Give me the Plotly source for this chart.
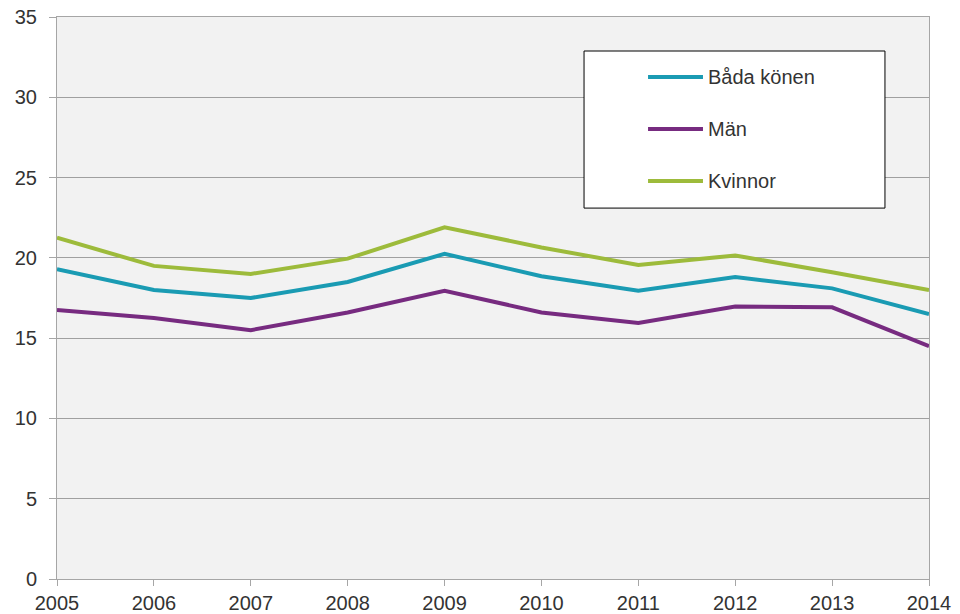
import plotly.graph_objects as go

years = [2005, 2006, 2007, 2008, 2009, 2010, 2011, 2012, 2013, 2014]
bada = [19.3, 18.0, 17.5, 18.5, 20.25, 18.85, 17.95, 18.8, 18.1, 16.5]
man = [16.75, 16.25, 15.5, 16.6, 17.95, 16.6, 15.95, 16.97, 16.92, 14.5]
kvinnor = [21.25, 19.5, 19.0, 19.95, 21.9, 20.65, 19.55, 20.15, 19.1, 18.0]

names = ["Båda könen", "Män", "Kvinnor"]
colors = ["#1A9BB3", "#772B80", "#9DBB3B"]
series = [bada, man, kvinnor]

fig = go.Figure()
for name, col, vals in zip(names, colors, series):
    fig.add_trace(go.Scatter(x=years, y=vals, mode="lines", name=name,
                             line=dict(color=col, width=4), showlegend=False))

FONT = "Liberation Sans, Arial, sans-serif"
TXT = "#333333"

# custom legend
fig.add_shape(type="rect", xref="paper", yref="paper", x0=0.6044, x1=0.9495,
              y0=0.660, y1=0.9395, line=dict(color="#000000", width=1),
              fillcolor="white", layer="above")
rows = [0.8932, 0.8007, 0.7082]
for name, col, ry in zip(names, colors, rows):
    fig.add_shape(type="line", xref="paper", yref="paper", x0=0.6778, x1=0.7408,
                  y0=ry, y1=ry, line=dict(color=col, width=4), layer="above")
    fig.add_annotation(xref="paper", yref="paper", x=0.7440, y=ry, text=name,
                       showarrow=False, xanchor="left", yanchor="middle",
                       font=dict(family=FONT, size=20, color=TXT))

fig.update_layout(
    width=952, height=606,
    margin=dict(l=49, r=31, t=9, b=35, autoexpand=False),
    paper_bgcolor="white", plot_bgcolor="#F2F2F2",
    font=dict(family=FONT, size=20, color=TXT),
)
fig.update_xaxes(range=[2005, 2014], tickmode="array", tickvals=years,
                 ticktext=[str(y) for y in years], automargin=False,
                 ticklabeloverflow="allow",
                 showgrid=False, zeroline=False,
                 showline=True, linecolor="#A6A6A6", linewidth=1, mirror=True,
                 ticks="outside", ticklen=6, tickcolor="#A6A6A6",
                 tickfont=dict(family=FONT, size=20, color=TXT))
fig.update_yaxes(range=[0, 35], dtick=5, tick0=0, automargin=False,
                 ticklabeloverflow="allow", ticklabelstandoff=8,
                 showgrid=True, gridcolor="#A0A0A0", gridwidth=1, zeroline=False,
                 showline=True, linecolor="#A6A6A6", linewidth=1, mirror=True,
                 ticks="outside", ticklen=7, tickcolor="#A6A6A6",
                 tickfont=dict(family=FONT, size=20, color=TXT))

fig.write_html("out.html")
